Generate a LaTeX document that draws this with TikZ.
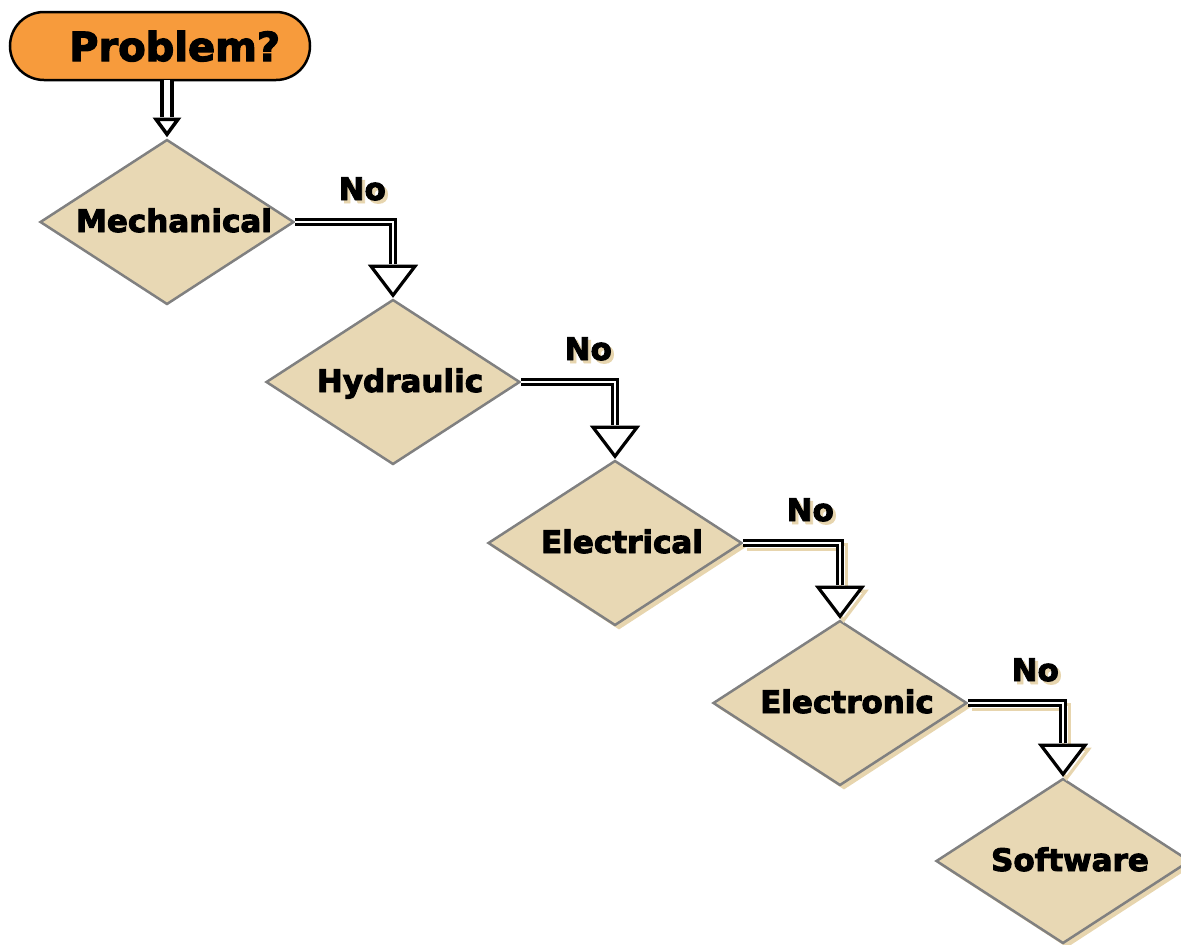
\documentclass[tikz,border=0pt]{standalone}
\usepackage{fontspec}
\setmainfont{DejaVu Sans}
\newfontfamily\heavyfont{DejaVu Sans Bold}[FakeBold=3]
\usetikzlibrary{shapes.geometric,calc}
\definecolor{tanfill}{RGB}{232,216,180}
\definecolor{tanshadow}{RGB}{231,213,174}
\definecolor{orangefill}{RGB}{247,155,60}
\definecolor{bordergray}{RGB}{128,128,128}
\newcommand\connhead[2]{% #1 target node, #2 colour
  \draw[#2,fill=white,line width=3.2pt,line join=miter]
    ($(#1.north)+(-22,-32)$) -- ($(#1.north)+(22,-32)$) -- ($(#1.north)+(0,-3)$) -- cycle;}
\newcommand\connshaft[3]{% #1 from, #2 to, #3 colour
  \draw[#3,line width=3.2pt,double=white,double distance=2.5pt,line join=miter]
    (#1.east) -| ($(#2.north)+(0,-34)$);}
\begin{document}
\begin{tikzpicture}[x=1pt,y=-1pt,
  dia/.style={diamond, draw=bordergray, line width=2.5pt, fill=tanfill,
    minimum width=254pt, minimum height=165pt, inner sep=0pt},
  diashadow/.style={diamond, fill=tanshadow,
    minimum width=254pt, minimum height=165pt, inner sep=0pt},
  dialabel/.style={anchor=base, font=\fontsize{31}{36}\heavyfont},
  nolabel/.style={anchor=base, font=\fontsize{31}{36}\heavyfont},
  probbox/.style={draw=black, line width=2.5pt, fill=orangefill, rounded corners=34pt}
]
\useasboundingbox (0,0) rectangle (1181,945);

% start box
\draw[probbox] (10,12) rectangle (310,80);
\coordinate (probw) at (10,46);
\coordinate (probs) at (167,80);
\node[anchor=base west, font=\fontsize{40}{48}\heavyfont, inner sep=0pt] (probtext) at ($(probw)+(59,15)$) {Problem?};

% diamond shadows
\node[diashadow] (elecS) at (619,547) {};
\node[diashadow] (elnS) at (844,707) {};
\node[diashadow] (softS) at (1067,865) {};

% diamonds
\node[dia] (mech) at (167,222) {};
\node[dia] (hyd) at (393,382) {};
\node[dia] (elec) at (615,543) {};
\node[dia] (eln) at (840,703) {};
\node[dia] (soft) at (1063,861) {};

% connector shadows (drawn offset)
\begin{scope}[transform canvas={xshift=3.5pt,yshift=-4pt}]
  \connshaft{elec}{eln}{tanshadow}
  \connhead{eln}{tanshadow}
  \connshaft{eln}{soft}{tanshadow}
  \connhead{soft}{tanshadow}
\end{scope}

% labels in diamonds
\node[dialabel] (mechL) at ($(mech.center)+(7,10)$) {Mechanical};
\node[dialabel] (hydL) at ($(hyd.center)+(7,10)$) {Hydraulic};
\node[dialabel] (elecL) at ($(elec.center)+(7,10)$) {Electrical};
\node[dialabel] (elnL) at ($(eln.center)+(7,10)$) {Electronic};
\node[dialabel] (softL) at ($(soft.center)+(7,10)$) {Software};

% top connector
\draw[line width=3.5pt,fill=white,line join=miter]
  ($(mech.north)+(-11,-19)$) -- ($(mech.north)+(11,-19)$) -- ($(mech.north)+(0,-4)$) -- cycle;
\draw[line width=3.5pt,double=white,double distance=6.5pt]
  (probs) -- ($(mech.north)+(0,-21)$);

% No connectors
\connhead{hyd}{black}
\connshaft{mech}{hyd}{black}
\connhead{elec}{black}
\connshaft{hyd}{elec}{black}
\connhead{eln}{black}
\connshaft{elec}{eln}{black}
\connhead{soft}{black}
\connshaft{eln}{soft}{black}

% No labels with shadows
\foreach \n/\m in {mech/a,hyd/b,elec/c,eln/d}{
  \node[nolabel, text=tanshadow] (noS\m) at ($(\n.east)+(70,-19)$) {No};
  \node[nolabel] (no\m) at ($(\n.east)+(67,-22)$) {No};
}
\end{tikzpicture}
\end{document}
